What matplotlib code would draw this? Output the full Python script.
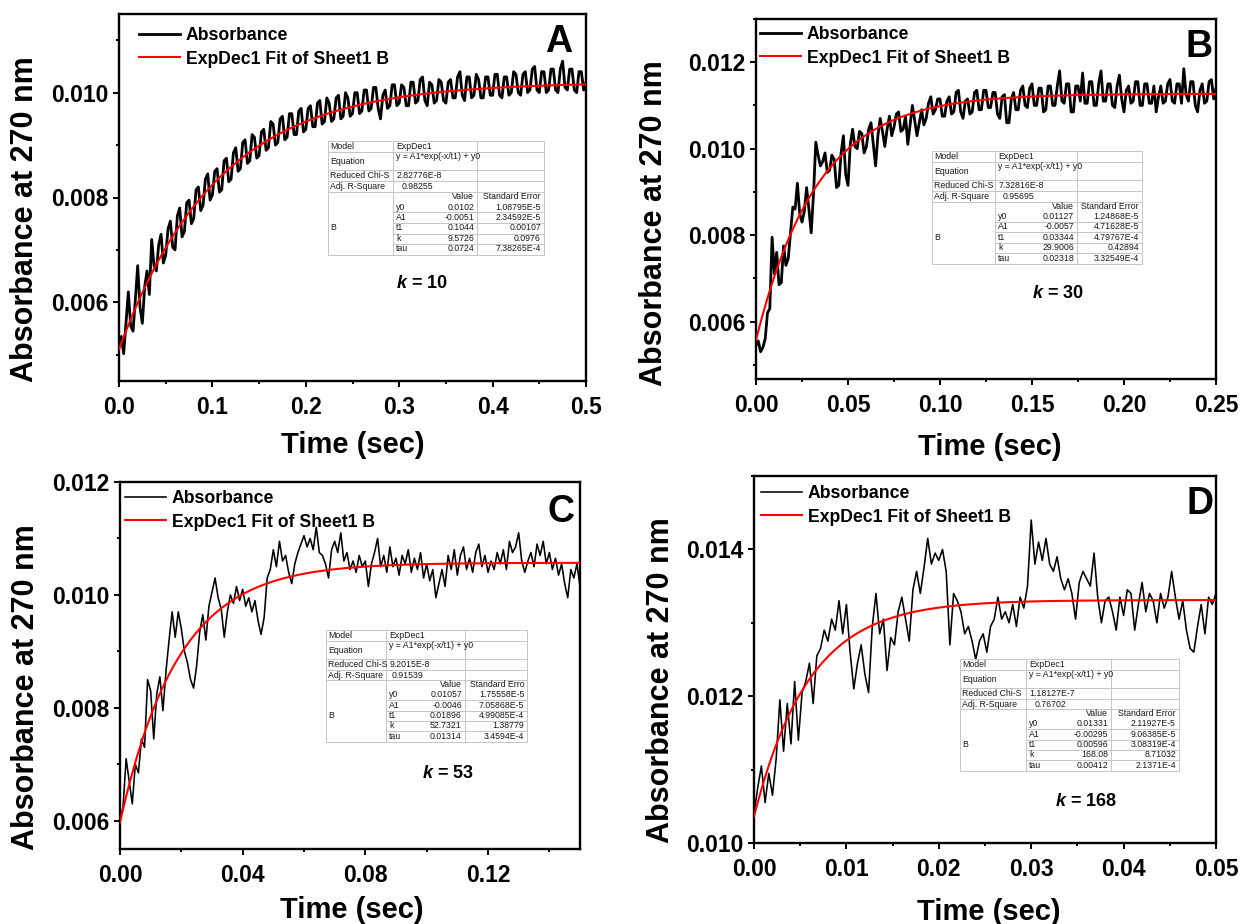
import numpy as np
import matplotlib
matplotlib.use("Agg")
import matplotlib.pyplot as plt
from matplotlib.lines import Line2D
from matplotlib.ticker import MultipleLocator, FormatStrFormatter

plt.rcParams['font.family'] = ['Liberation Sans', 'DejaVu Sans']
plt.rcParams['font.weight'] = 'bold'
plt.rcParams['mathtext.fontset'] = 'custom'
plt.rcParams['mathtext.it'] = 'Liberation Sans:italic:bold'
plt.rcParams['mathtext.rm'] = 'Liberation Sans:bold'

W, H = 1240, 924

# ---------------- data ----------------
panel_letters = ["A", "B", "C", "D"]
t_end = [0.5, 0.25, 0.15, 0.05]          # last time point of each trace (s)

# absorbance traces, in units of 1e-3, evenly sampled from 0 to t_end
absA = [5.20, 5.35, 5.02, 5.60, 6.20, 5.55, 5.45, 6.05, 6.70, 5.90,
        5.60, 6.30, 6.60, 6.15, 7.20, 6.70, 6.60, 7.10, 7.30, 6.75,
        6.90, 7.40, 7.55, 7.05, 7.00, 7.65, 7.80, 7.25, 7.35, 7.90,
        7.95, 7.50, 7.60, 8.15, 8.20, 7.75, 7.85, 8.35, 8.45, 7.95,
        8.05, 8.50, 8.55, 8.10, 8.15, 8.70, 8.75, 8.30, 8.35, 8.85,
        8.95, 8.50, 8.55, 9.05, 9.10, 8.65, 8.70, 9.20, 9.15, 8.75,
        8.80, 9.25, 9.30, 8.90, 8.95, 9.45, 9.40, 9.00, 9.05, 9.50,
        9.55, 9.10, 9.15, 9.60, 9.60, 9.20, 9.20, 9.65, 9.70, 9.25,
        9.30, 9.70, 9.75, 9.35, 9.35, 9.80, 9.85, 9.40, 9.45, 9.90,
        9.80, 9.45, 9.50, 9.90, 9.95, 9.50, 9.55, 10.00, 9.90, 9.55,
        9.60, 10.00, 10.00, 9.60, 9.65, 10.05, 10.05, 9.65, 9.70, 10.10,
        10.10, 9.70, 9.50, 9.95, 10.05, 9.70, 9.75, 10.15, 10.15, 9.75,
        9.80, 10.15, 10.10, 9.75, 9.75, 10.20, 10.20, 9.80, 9.85, 10.25,
        10.30, 9.85, 9.75, 10.20, 10.15, 9.80, 9.85, 10.25, 10.20, 9.85,
        9.80, 10.20, 10.25, 9.90, 9.90, 10.30, 10.40, 9.95, 9.85, 10.30,
        10.30, 9.90, 9.95, 10.35, 10.25, 9.90, 9.90, 10.30, 10.30, 9.95,
        9.95, 10.35, 10.35, 9.95, 9.90, 10.30, 10.30, 9.95, 10.00, 10.40,
        10.35, 10.00, 9.95, 10.35, 10.40, 10.00, 10.05, 10.45, 10.50, 10.05,
        10.00, 10.40, 10.40, 10.00, 10.05, 10.45, 10.45, 10.05, 10.00, 10.45,
        10.60, 10.10, 10.05, 10.45, 10.45, 10.05, 10.00, 10.40, 10.40, 10.05,
        10.20]

absB = [5.45, 5.55, 5.30, 5.40, 5.60, 6.20, 6.30, 7.95, 7.10, 7.60,
        6.85, 6.90, 7.75, 7.30, 7.45, 8.05, 8.65, 8.60, 9.20, 8.50,
        8.30, 8.55, 9.10, 8.60, 8.05, 8.95, 10.15, 9.85, 9.60, 9.70,
        9.90, 9.45, 9.50, 9.85, 9.75, 9.10, 9.15, 9.90, 10.30, 9.40,
        9.15, 10.10, 10.45, 10.05, 10.00, 10.40, 10.35, 9.90, 10.05, 10.45,
        10.60, 10.10, 9.60, 10.30, 10.70, 10.40, 10.05, 10.45, 10.75, 10.30,
        10.50, 10.80, 10.85, 10.40, 10.45, 10.75, 10.10, 10.55, 11.00, 10.65,
        10.30, 10.60, 10.90, 10.55, 10.70, 11.05, 11.20, 10.80, 10.90, 11.15,
        11.15, 10.75, 10.75, 11.10, 11.20, 10.80, 10.85, 11.30, 11.35, 10.85,
        10.70, 11.10, 11.15, 10.80, 10.85, 11.30, 11.35, 10.90, 10.90, 11.35,
        11.35, 10.95, 10.95, 11.30, 11.30, 10.80, 10.70, 11.20, 11.25, 10.60,
        10.60, 11.15, 11.30, 10.90, 10.90, 11.35, 11.45, 11.00, 10.95, 11.40,
        11.50, 11.00, 11.00, 11.40, 11.40, 10.85, 10.90, 11.45, 11.45, 11.00,
        11.00, 11.45, 11.80, 11.10, 11.05, 11.50, 11.50, 10.85, 10.85, 11.45,
        11.45, 11.10, 11.75, 11.05, 11.05, 11.55, 11.55, 11.00, 11.00, 11.50,
        11.80, 11.10, 11.10, 11.50, 11.50, 11.00, 10.95, 11.45, 11.70, 11.15,
        10.85, 11.35, 11.45, 11.05, 11.10, 11.55, 11.55, 11.00, 11.00, 11.50,
        11.50, 11.05, 11.05, 11.45, 10.85, 11.20, 11.45, 11.05, 11.10, 11.50,
        11.60, 11.10, 11.05, 11.50, 11.50, 11.05, 11.85, 11.25, 11.10, 11.55,
        11.55, 11.00, 10.85, 11.35, 11.50, 11.05, 11.10, 11.55, 11.60, 11.15,
        11.40]

absC = [6.00, 6.25, 7.10, 6.70, 6.30, 7.00, 6.85, 7.45, 7.30, 8.50,
        8.30, 7.45, 8.25, 8.55, 7.95, 8.65, 9.20, 9.70, 9.25, 9.70,
        9.40, 9.00, 8.80, 8.50, 8.35, 8.75, 9.35, 9.65, 9.20, 9.80,
        10.05, 10.30, 9.95, 9.75, 9.25, 9.70, 10.00, 9.85, 10.15, 9.90,
        10.10, 9.80, 9.95, 9.70, 9.90, 9.55, 9.30, 9.60, 10.30, 10.45,
        10.80, 10.50, 10.95, 10.60, 10.70, 10.40, 10.20, 10.55, 10.75, 10.90,
        11.05, 10.85, 11.00, 10.80, 11.20, 10.75, 10.70, 10.55, 10.30, 10.80,
        10.95, 10.75, 11.10, 10.60, 10.75, 10.45, 10.60, 10.40, 10.70, 10.50,
        10.60, 10.15, 10.55, 10.75, 11.00, 10.50, 10.70, 10.40, 10.85, 10.50,
        10.65, 10.35, 10.70, 10.55, 10.80, 10.40, 10.65, 10.45, 10.75, 10.30,
        10.55, 10.25, 10.45, 9.95, 10.20, 10.45, 10.15, 10.70, 10.45, 10.80,
        10.35, 10.70, 10.85, 10.45, 10.65, 10.40, 10.75, 10.90, 10.50, 10.70,
        10.40, 10.60, 10.45, 10.75, 10.55, 10.80, 10.45, 10.95, 10.75, 10.85,
        11.10, 10.60, 10.40, 10.60, 10.75, 10.50, 10.90, 10.70, 10.95, 10.55,
        10.75, 10.45, 10.65, 10.35, 10.55, 10.20, 9.95, 10.45, 10.30, 10.55,
        10.15]

absD = [10.40, 10.75, 11.05, 10.55, 10.95, 10.65, 11.15, 11.95, 11.25, 11.90,
        11.35, 12.20, 11.40, 12.05, 12.20, 12.45, 11.90, 12.55, 12.65, 12.90,
        12.75, 13.05, 12.90, 13.30, 12.85, 13.25, 12.60, 12.10, 12.45, 12.70,
        12.30, 12.05, 12.95, 13.40, 12.85, 13.05, 12.35, 12.80, 12.70, 13.15,
        13.35, 13.05, 12.75, 13.45, 13.70, 13.40, 13.75, 14.15, 13.80, 13.95,
        13.85, 14.00, 13.70, 12.70, 13.40, 13.30, 13.15, 12.85, 12.95, 12.75,
        12.50, 12.75, 12.85, 12.60, 12.95, 13.05, 13.35, 13.05, 13.15, 13.00,
        13.25, 12.95, 13.35, 13.20, 13.50, 14.40, 13.80, 14.10, 13.85, 14.15,
        13.80, 13.70, 13.90, 13.60, 13.45, 13.60, 13.40, 13.05, 13.55, 13.70,
        13.60, 13.50, 13.95, 13.35, 13.00, 13.30, 13.35, 13.15, 12.90, 13.35,
        13.10, 13.45, 13.40, 12.90, 13.25, 13.55, 13.15, 13.40, 13.30, 13.00,
        13.40, 13.20, 13.35, 13.70, 13.35, 13.05, 13.30, 12.90, 12.65, 12.60,
        12.95, 13.25, 12.85, 13.35, 13.25, 13.40]

traces = [absA, absB, absC, absD]

# ExpDec1 fit results: y = A1*exp(-x/t1) + y0
fit_y0 = [0.0102, 0.01127, 0.01057, 0.01331]
fit_A1 = [-0.0051, -0.0057, -0.0046, -0.00295]
fit_t1 = [0.1044, 0.03344, 0.01896, 0.00596]
fit_k = [9.5726, 29.9006, 52.7321, 168.0803]
fit_tau = [0.0724, 0.02318, 0.01314, 0.00412]
err_y0 = ["1.08795E-5", "1.24868E-5", "1.75558E-5", "2.11927E-5"]
err_A1 = ["2.34592E-5", "4.71628E-5", "7.05868E-5", "9.06385E-5"]
err_t1 = ["0.00107", "4.79767E-4", "4.99085E-4", "3.08319E-4"]
err_k = ["0.0976", "0.42894", "1.38779", "8.71032"]
err_tau = ["7.38265E-4", "3.32549E-4", "3.4594E-4", "2.1371E-4"]
red_chi2 = ["2.82776E-8", "7.32816E-8", "9.2015E-8", "1.18127E-7"]
adj_r2 = ["0.98255", "0.95695", "0.91539", "0.76702"]
err_header = ["Standard Error", "Standard Error", "Standard Erro", "Standard Error"]
k_labels = ["10", "30", "53", "168"]

# ---------------- layout (pixels, y measured from top) ----------------
ax_boxes = [(119, 14, 586, 381), (756, 19, 1216, 379),
            (120, 482, 580, 849), (754, 476, 1216, 843)]
ylims = [(0.0045, 0.0115), (0.00467, 0.0130), (0.0055, 0.012), (0.010, 0.015)]
x_major = [0.1, 0.05, 0.04, 0.01]
x_fmt = ['%.1f', '%.2f', '%.2f', '%.2f']
table_boxes = [(328, 141, 544, 255), (932, 151, 1142, 264),
               (326, 630, 527, 742), (960, 659, 1179, 771)]
k_pos = [(422, 283), (1058, 293), (448, 774), (1086, 802)]
letter_pos = [(559, 42), (1199, 47), (561, 512), (1200, 504)]
legend_pos = [(139, 33), (760, 32), (125, 496), (761, 491)]
ylabel_pos = [(25, 219), (654, 223), (26, 687), (661, 680)]
xlabel_pos = [(353, 445), (990, 447), (352, 910), (989, 912)]
trace_lw = [2.0, 2.0, 1.15, 1.15]


def fx(px):
    return px / W


def fy(py):
    return 1 - py / H


def draw_table(fig, i):
    x0, y0, x1, y1 = table_boxes[i]
    w, h = x1 - x0, y1 - y0

    def X(f):
        return fx(x0 + f * w)

    def Y(f):
        return fy(y0 + f * h)

    lk = dict(color='#c6c6c6', lw=0.7, transform=fig.transFigure)
    for f in [0.0, 0.10, 0.255, 0.355, 0.447, 1.0]:
        fig.add_artist(Line2D([X(0), X(1)], [Y(f), Y(f)], **lk))
    for f in [0.627, 0.72, 0.812, 0.905]:
        fig.add_artist(Line2D([X(0.30), X(1)], [Y(f), Y(f)], **lk))
    for f in [0.0, 0.30, 0.69, 1.0]:
        fig.add_artist(Line2D([X(f), X(f)], [Y(0), Y(1)], **lk))

    tk = dict(fontsize=6.3, fontweight='normal', color='#1a1a1a', va='center',
              transform=fig.transFigure)
    fig.text(X(0.010), Y(0.046), "Model", ha='left', **tk)
    fig.text(X(0.315), Y(0.046), "ExpDec1", ha='left', **tk)
    fig.text(X(0.010), Y(0.180), "Equation", ha='left', **tk)
    fig.text(X(0.315), Y(0.140), "y = A1*exp(-x/t1) + y0", ha='left', **tk)
    fig.text(X(0.010), Y(0.307), "Reduced Chi-S", ha='left', **tk)
    fig.text(X(0.318), Y(0.307), red_chi2[i], ha='left', **tk)
    fig.text(X(0.010), Y(0.403), "Adj. R-Square", ha='left', **tk)
    fig.text(X(0.486), Y(0.403), adj_r2[i], ha='right', **tk)
    fig.text(X(0.676), Y(0.491), "Value", ha='right', **tk)
    fig.text(X(0.986), Y(0.491), err_header[i], ha='right', **tk)
    rows = [("y0", fit_y0[i], err_y0[i]), ("A1", fit_A1[i], err_A1[i]),
            ("t1", fit_t1[i], err_t1[i]), ("k", fit_k[i], err_k[i]),
            ("tau", fit_tau[i], err_tau[i])]
    for j, (name, val, err) in enumerate(rows):
        yy = Y(0.579 + j * 0.092)
        fig.text(X(0.315), yy, name, ha='left', **tk)
        fig.text(X(0.676), yy, f"{val:g}", ha='right', **tk)
        fig.text(X(0.986), yy, err, ha='right', **tk)
    fig.text(X(0.010), Y(0.763), "B", ha='left', **tk)


fig = plt.figure(figsize=(W / 100, H / 100), dpi=100)
fig.patch.set_facecolor('white')

for i in range(4):
    l, t, r, b = ax_boxes[i]
    ax = fig.add_axes([fx(l), fy(b), (r - l) / W, (b - t) / H])
    y = np.array(traces[i]) * 1e-3
    x = np.linspace(0, t_end[i], len(y))
    ax.plot(x, y, color='black', lw=trace_lw[i], label='Absorbance', zorder=2)
    xf = np.linspace(0, t_end[i], 400)
    yf = fit_A1[i] * np.exp(-xf / fit_t1[i]) + fit_y0[i]
    ax.plot(xf, yf, color='#ff0000', lw=1.5, label='ExpDec1 Fit of Sheet1 B', zorder=3)

    ax.set_xlim(0, t_end[i])
    ax.set_ylim(*ylims[i])
    ax.xaxis.set_major_locator(MultipleLocator(x_major[i]))
    ax.xaxis.set_minor_locator(MultipleLocator(x_major[i] / 2))
    ax.yaxis.set_major_locator(MultipleLocator(0.002))
    ax.yaxis.set_minor_locator(MultipleLocator(0.001))
    ax.xaxis.set_major_formatter(FormatStrFormatter(x_fmt[i]))
    ax.yaxis.set_major_formatter(FormatStrFormatter('%.3f'))
    ax.tick_params(which='both', direction='out', width=1.4, top=False, right=False)
    ax.tick_params(which='major', length=4, labelsize=16.5)
    ax.tick_params(which='minor', length=2.5)
    ax.tick_params(axis='x', pad=7)
    ax.tick_params(axis='y', pad=3.5)
    for lab in ax.get_xticklabels() + ax.get_yticklabels():
        lab.set_fontweight('bold')
    for s in ax.spines.values():
        s.set_linewidth(1.7)

    # legend placed by its first row
    lx, ly = legend_pos[i]
    ax_w, ax_h = r - l, b - t
    ax.legend(loc='upper left', frameon=False,
              prop={'weight': 'bold', 'size': 12.7},
              handlelength=2.3, handletextpad=0.35, labelspacing=0.37,
              borderpad=0, borderaxespad=0,
              bbox_to_anchor=((lx - l) / ax_w, 1 - (ly - 6 - t) / ax_h))

    px, py = letter_pos[i]
    fig.text(fx(px), fy(py), panel_letters[i], fontsize=27, fontweight='bold',
             ha='center', va='center')
    kx, ky = k_pos[i]
    fig.text(fx(kx), fy(ky), r"$k$ = " + k_labels[i], fontsize=13, fontweight='bold',
             ha='center', va='center')
    yx, yy = ylabel_pos[i]
    fig.text(fx(yx), fy(yy), "Absorbance at 270 nm", rotation=90, fontsize=22,
             fontweight='bold', ha='center', va='center')
    xx, xy = xlabel_pos[i]
    fig.text(fx(xx), fy(xy), "Time (sec)", fontsize=21, fontweight='bold',
             ha='center', va='center')
    draw_table(fig, i)

fig.savefig("out.png", dpi=100, facecolor='white')
